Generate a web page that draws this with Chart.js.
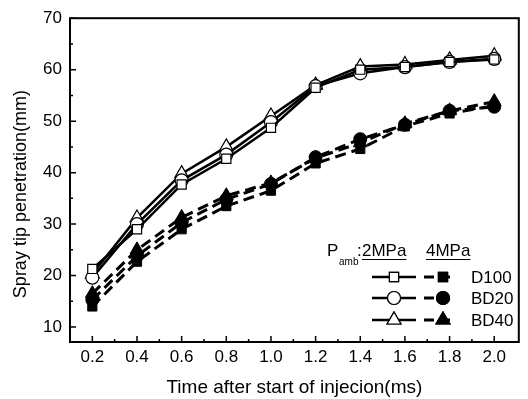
<!DOCTYPE html>
<html>
<head>
<meta charset="utf-8">
<script src="https://cdn.jsdelivr.net/npm/chart.js@4"></script>
<style>
  html, body { margin: 0; padding: 0; background: #fff; }
  #wrap { width: 528px; height: 399px; }
</style>
</head>
<body>
<div id="wrap"><canvas id="chart" width="528" height="399"></canvas></div>
<script>
const timeMs = [0.2, 0.4, 0.6, 0.8, 1.0, 1.2, 1.4, 1.6, 1.8, 2.0];

const d100Low = [21.3, 29.0, 37.7, 42.7, 48.7, 56.5, 60.0, 60.5, 61.5, 62.0];
const bd20Low = [19.6, 30.0, 38.5, 43.5, 49.8, 56.8, 59.3, 60.5, 61.5, 62.1];
const bd40Low = [20.3, 31.2, 39.8, 45.0, 51.0, 57.0, 60.6, 61.0, 61.9, 62.7];

const d100High = [14.0, 22.7, 29.0, 33.5, 36.5, 41.8, 44.6, 49.0, 51.5, 53.0];
const bd20High = [15.3, 23.8, 30.3, 34.8, 37.8, 43.0, 46.5, 49.3, 52.0, 52.8];
const bd40High = [16.5, 25.0, 31.3, 35.5, 38.0, 42.8, 45.8, 49.5, 52.0, 53.8];

const xTicks = [0.2, 0.4, 0.6, 0.8, 1.0, 1.2, 1.4, 1.6, 1.8, 2.0];
const xMinor = [0.3, 0.5, 0.7, 0.9, 1.1, 1.3, 1.5, 1.7, 1.9];
const yTicks = [10, 20, 30, 40, 50, 60, 70];
const yMinor = [15, 25, 35, 45, 55, 65];

const legendNames = ['D100', 'BD20', 'BD40'];
const markerStyles = ['rect', 'circle', 'triangle'];

const FONT = '"Liberation Sans", Arial, sans-serif';

function pts(vals) {
  return vals.map((v, i) => ({ x: timeMs[i], y: v }));
}

function solidSet(label, vals, shape) {
  return {
    label, data: pts(vals),
    borderColor: '#000', borderWidth: 2.5,
    pointStyle: shape, pointRadius: shape === 'triangle' ? 8 : 6.5,
    pointBackgroundColor: '#fff', pointBorderColor: '#000', pointBorderWidth: 1.2,
    tension: 0
  };
}

function dashSet(label, vals, shape) {
  return {
    label, data: pts(vals),
    borderColor: '#000', borderWidth: 3, borderDash: [11, 6],
    pointStyle: shape, pointRadius: shape === 'triangle' ? 8 : 6.5,
    pointBackgroundColor: '#000', pointBorderColor: '#000', pointBorderWidth: 1,
    tension: 0
  };
}

// frame, inward ticks and the two-column legend
const decor = {
  id: 'decor',
  afterDraw(chart) {
    const ctx = chart.ctx;
    const xs = chart.scales.x, ys = chart.scales.y;
    const a = chart.chartArea;
    ctx.save();
    ctx.strokeStyle = '#000';
    ctx.lineWidth = 2;
    ctx.strokeRect(a.left, a.top, a.right - a.left, a.bottom - a.top);

    ctx.lineWidth = 1.5;
    ctx.beginPath();
    xTicks.forEach(t => { const p = xs.getPixelForValue(t); ctx.moveTo(p, a.bottom); ctx.lineTo(p, a.bottom - 6); });
    xMinor.forEach(t => { const p = xs.getPixelForValue(t); ctx.moveTo(p, a.bottom); ctx.lineTo(p, a.bottom - 3); });
    yTicks.forEach(t => { const p = ys.getPixelForValue(t); ctx.moveTo(a.left, p); ctx.lineTo(a.left + 6, p); });
    yMinor.forEach(t => { const p = ys.getPixelForValue(t); ctx.moveTo(a.left, p); ctx.lineTo(a.left + 3, p); });
    ctx.stroke();

    // y title, placed a little low like the original
    ctx.fillStyle = '#000';
    ctx.save();
    ctx.translate(21, (a.top + a.bottom) / 2 + 14);
    ctx.rotate(-Math.PI / 2);
    ctx.textAlign = 'center';
    ctx.textBaseline = 'middle';
    ctx.font = '18px ' + FONT;
    ctx.fillText('Spray tip penetration(mm)', 0, 0);
    ctx.restore();

    // legend header
    ctx.textBaseline = 'middle';
    ctx.textAlign = 'left';
    ctx.font = '17px ' + FONT;
    ctx.fillText('P', 327, 251);
    ctx.font = '10px ' + FONT;
    ctx.fillText('amb', 339, 262);
    ctx.font = '17px ' + FONT;
    ctx.fillText(':', 357, 251);
    const w2 = ctx.measureText('2MPa').width;
    ctx.fillText('2MPa', 362, 251);
    ctx.fillText('4MPa', 426, 251);
    ctx.lineWidth = 1.2;
    ctx.beginPath();
    ctx.moveTo(362, 259.5); ctx.lineTo(362 + w2, 259.5);
    ctx.moveTo(426, 259.5); ctx.lineTo(426 + ctx.measureText('4MPa').width, 259.5);
    ctx.stroke();

    const rows = [277, 298, 320];
    rows.forEach((y, i) => {
      ctx.lineWidth = 2.5;
      ctx.setLineDash([]);
      ctx.beginPath();
      ctx.moveTo(372, y); ctx.lineTo(416, y);
      ctx.stroke();
      ctx.setLineDash([10, 6]);
      ctx.lineWidth = 3;
      ctx.beginPath();
      ctx.moveTo(424, y); ctx.lineTo(453, y);
      ctx.stroke();
      ctx.setLineDash([]);
      const r = markerStyles[i] === 'triangle' ? 8 : 6.5;
      ctx.lineWidth = 1.2;
      Chart.helpers.drawPoint(ctx, { pointStyle: markerStyles[i], radius: r, borderWidth: 1.2 }, 394, y);
      ctx.fillStyle = '#fff';
      ctx.strokeStyle = '#000';
      ctx.fill(); ctx.stroke();
      ctx.fillStyle = '#000';
      Chart.helpers.drawPoint(ctx, { pointStyle: markerStyles[i], radius: r, borderWidth: 1 }, 443, y);
      ctx.fill(); ctx.stroke();
      ctx.font = '17px ' + FONT;
      ctx.fillText(legendNames[i], 471, y + 1);
    });
    ctx.restore();
  }
};

new Chart(document.getElementById('chart'), {
  type: 'line',
  data: {
    datasets: [
      solidSet('D100 2MPa', d100Low, 'rect'),
      solidSet('BD20 2MPa', bd20Low, 'circle'),
      solidSet('BD40 2MPa', bd40Low, 'triangle'),
      dashSet('D100 4MPa', d100High, 'rect'),
      dashSet('BD20 4MPa', bd20High, 'circle'),
      dashSet('BD40 4MPa', bd40High, 'triangle')
    ]
  },
  options: {
    responsive: false,
    animation: false,
    layout: { padding: { top: 13, right: 6, left: 0, bottom: 0 } },
    plugins: { legend: { display: false }, tooltip: { enabled: false } },
    scales: {
      x: {
        type: 'linear', min: 0.1, max: 2.11,
        afterBuildTicks: s => { s.ticks = xTicks.map(v => ({ value: v })); },
        afterFit: s => { s.height = 57; },
        grid: { display: false, drawTicks: false },
        border: { display: false },
        ticks: { color: '#000', font: { family: FONT, size: 17 }, padding: 5, maxRotation: 0,
          callback: v => v.toFixed(1) },
        title: { display: true, text: 'Time after start of injecion(ms)', color: '#000',
          font: { family: FONT, size: 19 }, padding: { top: 0, bottom: 0 } }
      },
      y: {
        min: 7.1, max: 70,
        afterBuildTicks: s => { s.ticks = yTicks.map(v => ({ value: v })); },
        afterFit: s => { s.width = 70; },
        grid: { display: false, drawTicks: false },
        border: { display: false },
        ticks: { color: '#000', font: { family: FONT, size: 17 }, padding: 8 }
      }
    }
  },
  plugins: [decor]
});
</script>
</body>
</html>
